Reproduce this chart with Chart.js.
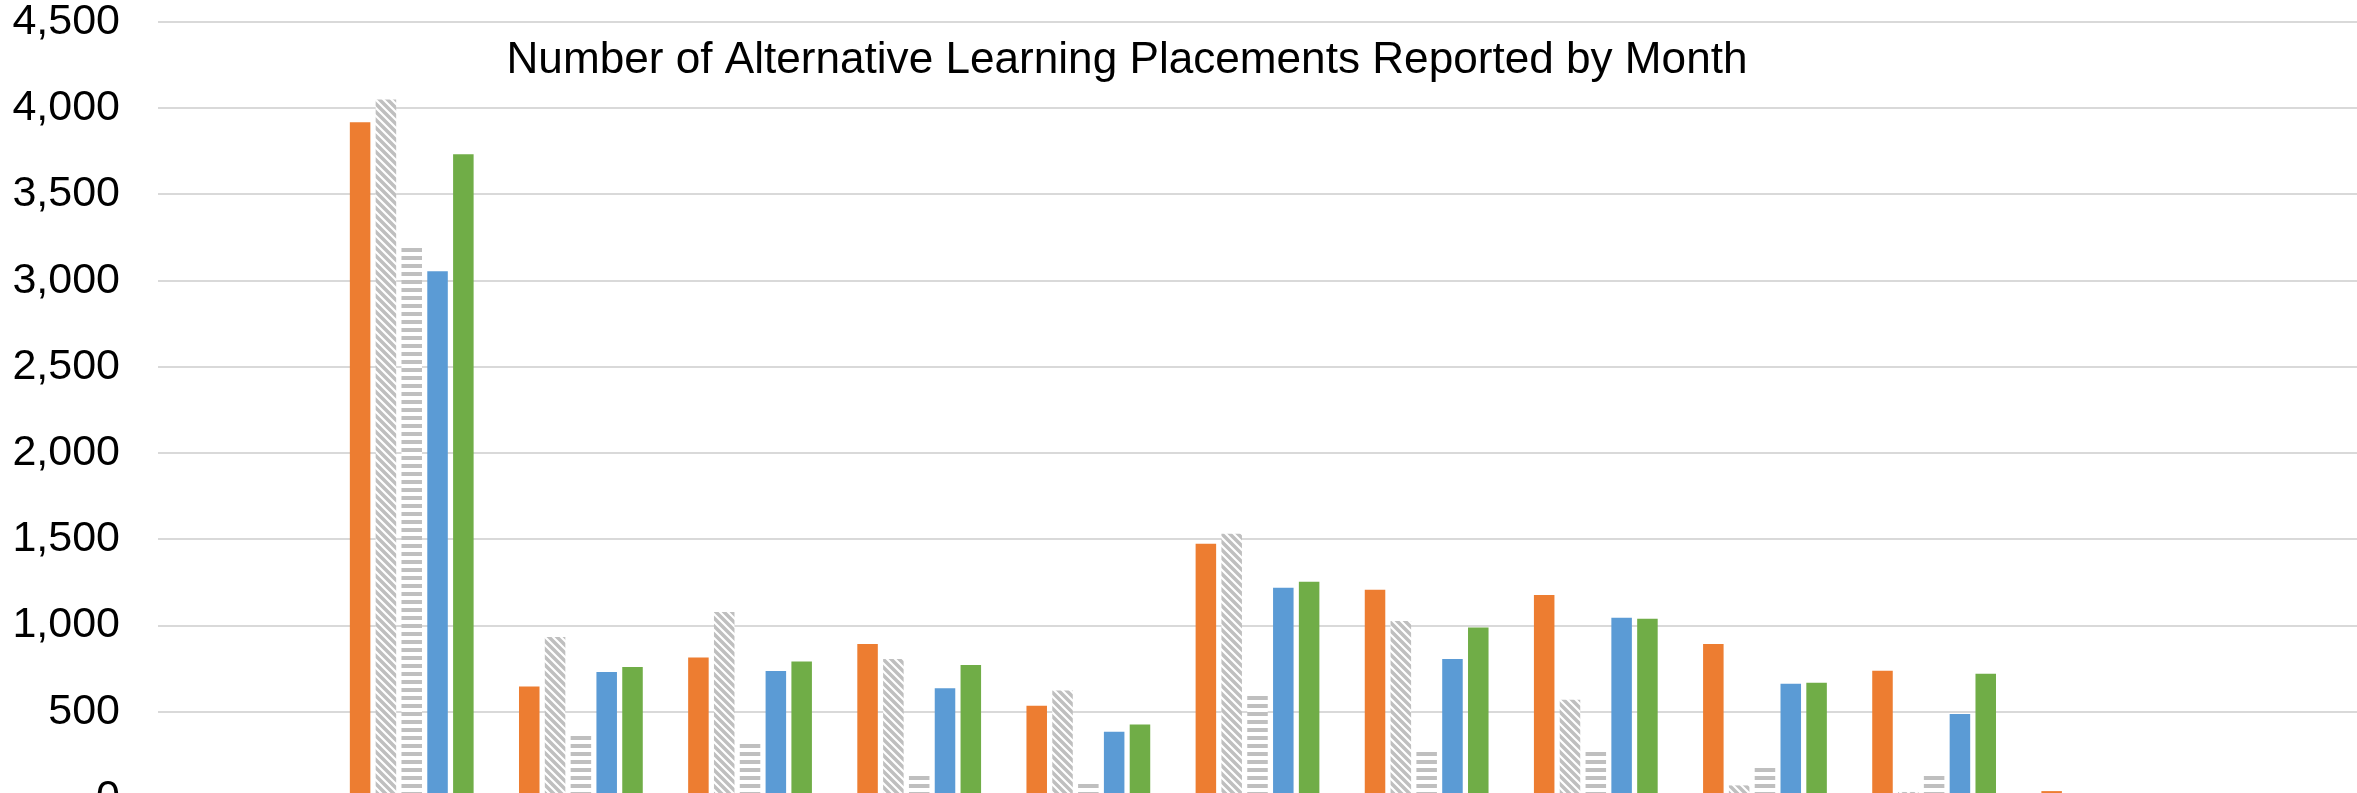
<!DOCTYPE html>
<html>
<head>
<meta charset="utf-8">
<title>Alternative Learning Placements</title>
<script src="https://cdn.jsdelivr.net/npm/chart.js@4.4.1/dist/chart.umd.min.js"></script>
<style>
    html, body { margin: 0; padding: 0; background: #fff; overflow: hidden; }
    #wrap { position: relative; width: 2357px; height: 860px; }
</style>
</head>
<body>
<div id="wrap"><canvas id="chart"></canvas></div>
<script>
const months = ["July", "August", "September", "October", "November", "December", "January", "February", "March", "April", "May", "June", "July "];
const seriesNames = ["2017-18", "2016-17", "2015-16", "2014-15", "2013-14"];
const orangeVals = [null, 3918, 647, 815, 893, 535, 1474, 1208, 1177, 893, 738, 40, null];
const diagVals   = [null, 4050, 933, 1078, 806, 624, 1532, 1026, 570, 73, 35, null, null];
const horizVals  = [null, 3209, 376, 314, 148, 88, 612, 287, 287, 193, 146, null, null];
const blueVals   = [null, 3054, 730, 736, 637, 384, 1219, 806, 1045, 662, 487, null, null];
const greenVals  = [null, 3733, 759, 792, 771, 426, 1254, 989, 1039, 668, 720, null, null];
const yTicks = [0, 500, 1000, 1500, 2000, 2500, 3000, 3500, 4000, 4500];
const chartTitle = "Number of Alternative Learning Placements Reported by Month";

document.addEventListener("DOMContentLoaded", () => {
    const ctx = document.getElementById("chart").getContext("2d");

    // pattern fills like Excel's "wide downward diagonal" and "dark horizontal"
    const makePattern = (draw) => {
        const c = document.createElement("canvas");
        c.width = 8; c.height = 8;
        const p = c.getContext("2d");
        p.fillStyle = "#ffffff";
        p.fillRect(0, 0, 8, 8);
        draw(p);
        return ctx.createPattern(c, "repeat");
    };
    const diagPattern = makePattern(p => {
        p.strokeStyle = "#bfbfbf";
        p.lineWidth = 3.5;
        p.beginPath();
        p.moveTo(-2, -2); p.lineTo(10, 10);
        p.moveTo(-2, 6); p.lineTo(2, 10);
        p.moveTo(6, -2); p.lineTo(10, 2);
        p.stroke();
    });
    const horizPattern = makePattern(p => {
        p.fillStyle = "#bfbfbf";
        p.fillRect(0, 0, 8, 4);
    });

    const titlePlugin = {
        id: "innerTitle",
        afterDraw(chart) {
            const c = chart.ctx;
            c.save();
            c.font = '45px "Liberation Sans", Arial, sans-serif';
            const w = c.measureText(chartTitle).width;
            c.translate(1127, 73);
            c.scale(1241 / w, 1);
            c.fillStyle = "#000000";
            c.textAlign = "center";
            c.textBaseline = "alphabetic";
            c.fillText(chartTitle, 0, 0);
            c.restore();
        }
    };

    const mk = (label, data, color) => ({ label, data, backgroundColor: color, borderWidth: 0 });

    new Chart(ctx, {
        type: "bar",
        data: {
            labels: months,
            datasets: [
                mk(seriesNames[0], orangeVals, "#ed7d31"),
                mk(seriesNames[1], diagVals, diagPattern),
                mk(seriesNames[2], horizVals, horizPattern),
                mk(seriesNames[3], blueVals, "#5b9bd5"),
                mk(seriesNames[4], greenVals, "#70ad47")
            ]
        },
        options: {
            responsive: true,
            maintainAspectRatio: false,
            animation: false,
            categoryPercentage: 0.763,
            barPercentage: 0.795,
            layout: { padding: { top: 22, bottom: 62, left: 0, right: 0 } },
            plugins: { legend: { display: false }, title: { display: false }, tooltip: { enabled: false } },
            scales: {
                x: { display: false },
                y: {
                    min: yTicks[0],
                    max: yTicks[yTicks.length - 1],
                    afterBuildTicks: s => { s.ticks = yTicks.map(v => ({ value: v })); },
                    afterFit: s => {
                        s.width = 158;
                        s.paddingTop = 20;
                        s.paddingBottom = 20;
                    },
                    border: { display: false },
                    grid: { color: "#d9d9d9", lineWidth: 2, drawTicks: false },
                    ticks: {
                        padding: 38,
                        color: "#000000",
                        font: { family: '"Liberation Sans", Arial, sans-serif', size: 43, lineHeight: 1 },
                        callback: v => v.toLocaleString("en-US")
                    }
                }
            }
        },
        plugins: [titlePlugin]
    });
});
</script>
</body>
</html>
